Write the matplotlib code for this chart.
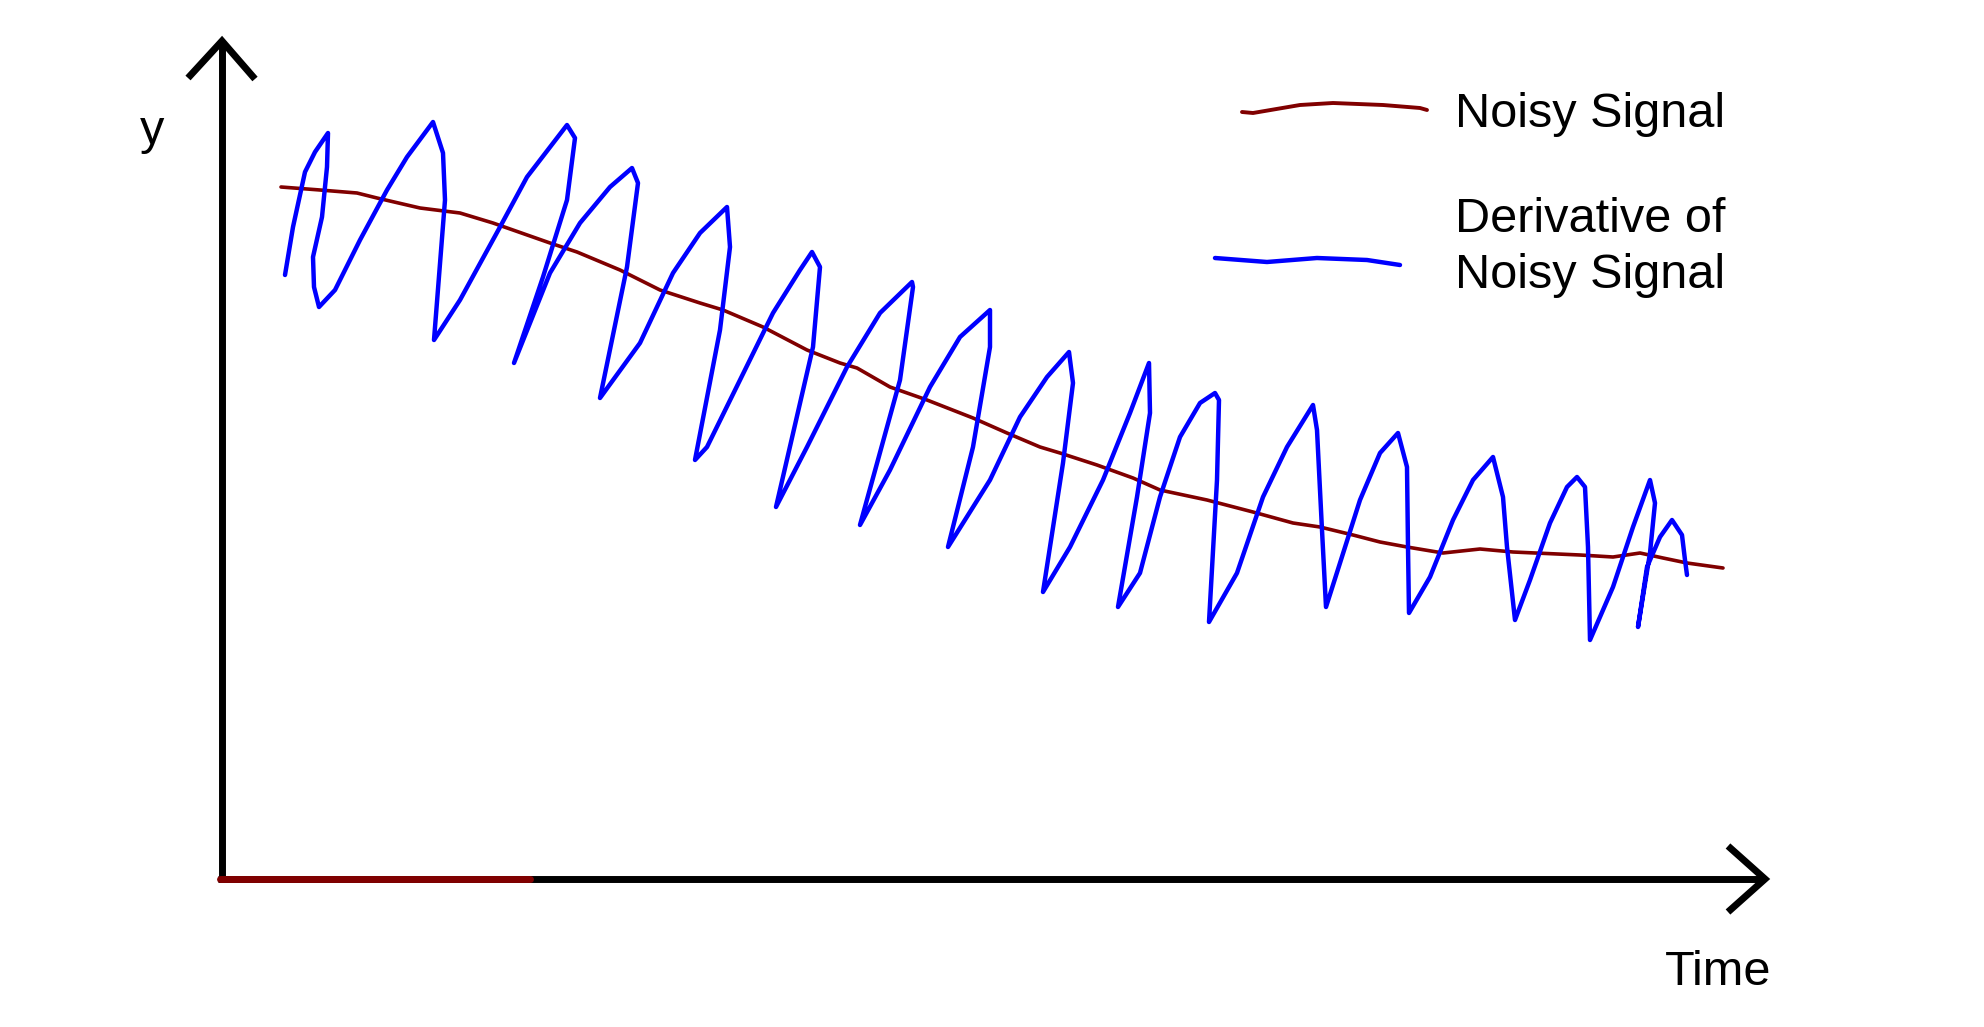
import matplotlib
matplotlib.use("Agg")
import matplotlib.pyplot as plt

# hand-drawn sketch, values (origin = corner of the axes)
noisy_t = [59, 98, 135, 155, 198, 238, 271, 328, 355, 398, 438, 478, 501, 541,
           585, 618, 635, 668, 705, 751, 785, 818, 838, 875, 911, 938, 985, 1031,
           1071, 1098, 1131, 1158, 1185, 1221, 1258, 1291, 1358, 1391, 1418, 1441,
           1465, 1501]
noisy_v = [692, 689, 686, 681, 671, 666, 656, 636, 627, 609, 589, 576, 569, 552,
           529, 516, 511, 492, 479, 461, 446, 432, 426, 414, 401, 389, 379, 367,
           356, 352, 344, 337, 332, 326, 330, 327, 324, 322, 326, 321, 316, 311]

deriv_t = [63, 71, 83, 93, 106, 105, 100, 91, 92, 97, 113, 138, 165, 185, 211,
           221, 223, 212, 238, 278, 305, 345, 353, 345, 321, 292, 328, 358, 388,
           410, 416, 405, 378, 418, 451, 478, 505, 508, 498, 473, 485, 518, 551,
           578, 590, 598, 591, 554, 585, 625, 658, 690, 691, 678, 638, 668, 708,
           738, 768, 768, 751, 726, 768, 798, 825, 847, 851, 841, 821, 848, 881,
           908, 927, 928, 915, 896, 918, 938, 958, 978, 993, 997, 995, 987, 1015,
           1041, 1065, 1091, 1095, 1100, 1104, 1118, 1138, 1158, 1176, 1185, 1186,
           1187, 1208, 1231, 1251, 1271, 1281, 1285, 1293, 1308, 1328, 1345, 1355,
           1363, 1366, 1368, 1391, 1411, 1428, 1433, 1428, 1416, 1425, 1438, 1450,
           1460, 1463, 1465]
deriv_v = [604, 652, 707, 727, 746, 712, 662, 622, 592, 572, 589, 639, 689, 722, 757,
           726, 679, 539, 579, 652, 702, 754, 741, 679, 602, 516, 606, 656, 692,
           711, 696, 612, 481, 536, 606, 646, 672, 632, 549, 419, 432, 499, 566,
           609, 627, 612, 532, 372, 432, 512, 566, 597, 592, 499, 354, 409, 492,
           542, 569, 532, 432, 332, 399, 462, 502, 527, 496, 416, 287, 332, 399,
           466, 516, 466, 382, 272, 306, 382, 442, 476, 486, 479, 399, 257, 306,
           382, 432, 474, 449, 349, 272, 316, 379, 426, 446, 412, 332,
           266, 302, 359, 399, 422, 382, 332, 259, 299, 356, 392, 402,
           392, 332, 239, 292, 352, 399, 376, 326, 252, 312, 342, 359,
           344, 319, 304]

# hand-drawn legend strokes
legend_red_t = [1020, 1031, 1078, 1111, 1161, 1198, 1205]
legend_red_v = [767, 766, 774, 776, 774, 771, 769]
legend_blue_t = [993, 1045, 1095, 1145, 1178]
legend_blue_v = [621, 617, 621, 619, 614]

RED = "#800000"
BLUE = "#0000ff"
FONT = "Liberation Sans"
FS = 35

fig = plt.figure(figsize=(19.84, 10.27), dpi=100)
ax = fig.add_axes([0, 0, 1, 1])
ax.set_xlim(-222, 1762)
ax.set_ylim(-148, 879)
ax.axis("off")

# axes drawn as arrows
ax.plot([0, 0], [0, 838], color="black", lw=5, solid_capstyle="butt")
ax.plot([-34, 0, 33], [801, 838, 800], color="black", lw=5,
        solid_capstyle="butt", solid_joinstyle="miter")
ax.plot([-4, 1543], [0, 0], color="black", lw=5, solid_capstyle="butt")
ax.plot([1506, 1543, 1506], [33, 0, -33], color="black", lw=5,
        solid_capstyle="butt", solid_joinstyle="miter")
ax.plot([-2, 308], [0, 0], color=RED, lw=5, solid_capstyle="round")

ax.plot(noisy_t, noisy_v, color=RED, lw=2.6, solid_capstyle="round",
        solid_joinstyle="round")
ax.plot(deriv_t, deriv_v, color=BLUE, lw=3.2, solid_capstyle="round",
        solid_joinstyle="round")

ax.plot(legend_red_t, legend_red_v, color=RED, lw=2.8, solid_capstyle="round")
ax.plot(legend_blue_t, legend_blue_v, color=BLUE, lw=3.2, solid_capstyle="round")

ax.text(-70, 735, "y", fontsize=FS, family=FONT, ha="center", va="baseline")
ax.text(1443, -106, "Time", fontsize=FS, family=FONT, ha="left", va="baseline")
ax.text(1233, 752, "Noisy Signal", fontsize=FS, family=FONT, ha="left", va="baseline")
ax.text(1233, 647, "Derivative of", fontsize=FS, family=FONT, ha="left", va="baseline")
ax.text(1233, 591, "Noisy Signal", fontsize=FS, family=FONT, ha="left", va="baseline")

fig.savefig("out.png", dpi=100)
